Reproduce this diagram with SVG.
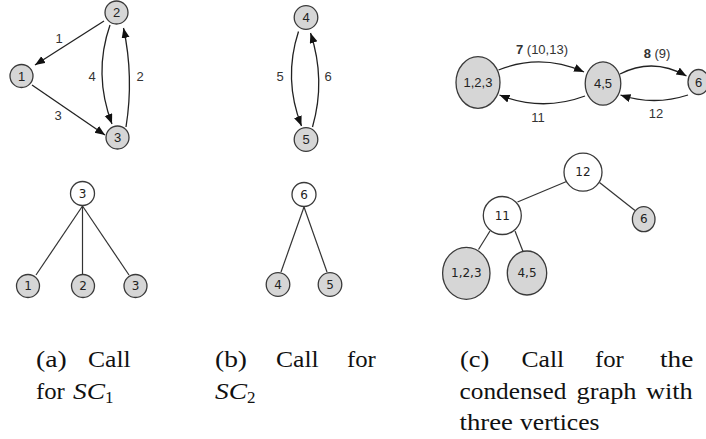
<svg xmlns="http://www.w3.org/2000/svg" width="706" height="439" viewBox="0 0 706 439">
  <style>
    .v { fill: #d6d6d6; stroke: #3a3a3a; stroke-width: 1.3; }
    .w { fill: #ffffff; stroke: #3a3a3a; stroke-width: 1.3; }
    .e { fill: none; stroke: #222; stroke-width: 1.3; }
    .t { stroke: #333; stroke-width: 1.2; }
    .nl { font-family: "Liberation Sans", Arial, sans-serif; font-size: 13px; fill: #222; text-anchor: middle; dominant-baseline: central; }
    .tl { font-family: "DejaVu Sans", Verdana, sans-serif; font-size: 12px; fill: #222; text-anchor: middle; dominant-baseline: central; }
    .el { font-family: "Liberation Sans", Arial, sans-serif; font-size: 13px; fill: #333; text-anchor: middle; dominant-baseline: central; }
    .cap { font-family: "Liberation Serif", "Times New Roman", serif; font-size: 24px; fill: #111; }
    .it { font-style: italic; }
  </style>
  <defs>
    <marker id="arrow" markerUnits="userSpaceOnUse" markerWidth="11" markerHeight="9" refX="10" refY="4" orient="auto">
      <path d="M0,0 L10,4 L0,8 Z" fill="#111"/>
    </marker>
  </defs>

  <!-- (a) strongly connected component SC1 -->
  <g id="connectors-a" class="e">
    <line x1="104" y1="21" x2="35" y2="65" marker-end="url(#arrow)"/>
    <line x1="32" y1="85" x2="105" y2="135" marker-end="url(#arrow)"/>
    <path d="M110,25 Q93,74 112,124" marker-end="url(#arrow)"/>
    <path d="M126,127 Q134,77 123.5,28" marker-end="url(#arrow)"/>
  </g>
  <g id="labels-a">
    <text class="el" x="59" y="38">1</text>
    <text class="el" x="92" y="76">4</text>
    <text class="el" x="140" y="76">2</text>
    <text class="el" x="58" y="115">3</text>
  </g>
  <g id="a-node1"><circle class="v" cx="21.5" cy="76" r="11.5"/><text class="nl" x="21.5" y="76">1</text></g>
  <g id="a-node2"><circle class="v" cx="116.5" cy="12.5" r="11.5"/><text class="nl" x="116.5" y="12.5">2</text></g>
  <g id="a-node3"><circle class="v" cx="117.5" cy="137.5" r="11.5"/><text class="nl" x="117.5" y="137.5">3</text></g>

  <!-- (a) call tree -->
  <g id="tree-a-edges" class="t">
    <line x1="82.5" y1="206" x2="36" y2="275"/>
    <line x1="82.5" y1="206" x2="82.5" y2="274"/>
    <line x1="82.5" y1="206" x2="129" y2="275"/>
  </g>
  <g id="ta-root"><circle class="w" cx="82.5" cy="193.5" r="12"/><text class="tl" x="82.5" y="193.5">3</text></g>
  <g id="ta-1"><circle class="v" cx="28" cy="286" r="11.5"/><text class="tl" x="28" y="286">1</text></g>
  <g id="ta-2"><circle class="v" cx="83" cy="286" r="11.5"/><text class="tl" x="83" y="286">2</text></g>
  <g id="ta-3"><circle class="v" cx="135.5" cy="286" r="11.5"/><text class="tl" x="135.5" y="286">3</text></g>

  <!-- (b) strongly connected component SC2 -->
  <g id="connectors-b" class="e">
    <path d="M298.5,31.5 Q283,79 301.5,126" marker-end="url(#arrow)"/>
    <path d="M312.5,127 Q326,80 310.5,33" marker-end="url(#arrow)"/>
  </g>
  <g id="labels-b">
    <text class="el" x="280" y="76">5</text>
    <text class="el" x="328" y="76">6</text>
  </g>
  <g id="b-node4"><circle class="v" cx="306" cy="17.5" r="11.8"/><text class="nl" x="306" y="17.5">4</text></g>
  <g id="b-node5"><circle class="v" cx="306" cy="139.5" r="11.8"/><text class="nl" x="306" y="139.5">5</text></g>

  <!-- (b) call tree -->
  <g id="tree-b-edges" class="t">
    <line x1="304" y1="207" x2="281" y2="272"/>
    <line x1="304" y1="207" x2="327" y2="272"/>
  </g>
  <g id="tb-root"><circle class="w" cx="304" cy="194.5" r="12"/><text class="tl" x="304" y="194.5">6</text></g>
  <g id="tb-4"><circle class="v" cx="278" cy="284.5" r="11.8"/><text class="tl" x="278" y="284.5">4</text></g>
  <g id="tb-5"><circle class="v" cx="330" cy="284.5" r="11.8"/><text class="tl" x="330" y="284.5">5</text></g>

  <!-- (c) condensed graph -->
  <g id="connectors-c" class="e">
    <path d="M498.5,70 Q541,53 584,72" marker-end="url(#arrow)"/>
    <path d="M585,96 Q542,112 499.5,95" marker-end="url(#arrow)"/>
    <path d="M620,74 Q653,57 686.5,76" marker-end="url(#arrow)"/>
    <path d="M688,95 Q654,106 620.5,95" marker-end="url(#arrow)"/>
  </g>
  <g id="labels-c">
    <text class="el" x="542" y="49"><tspan font-weight="bold">7</tspan> (10,13)</text>
    <text class="el" x="538" y="117">11</text>
    <text class="el" x="657" y="53"><tspan font-weight="bold">8</tspan> (9)</text>
    <text class="el" x="656" y="113">12</text>
  </g>
  <g id="c-node123"><ellipse class="v" cx="478" cy="82.5" rx="22" ry="25.8"/><text class="nl" x="478" y="82.5">1,2,3</text></g>
  <g id="c-node45"><ellipse class="v" cx="603" cy="83.5" rx="17.8" ry="21.7"/><text class="nl" x="603" y="83.5">4,5</text></g>
  <g id="c-node6"><ellipse class="v" cx="698.5" cy="82" rx="10.5" ry="12.5"/><text class="nl" x="698.5" y="82">6</text></g>

  <!-- (c) call tree -->
  <g id="tree-c-edges" class="t">
    <line x1="566.5" y1="181.5" x2="517.5" y2="202"/>
    <line x1="599.5" y1="182.5" x2="635" y2="210.5"/>
    <line x1="490" y1="231" x2="478.5" y2="249.5"/>
    <line x1="515" y1="231" x2="523" y2="251.5"/>
  </g>
  <g id="tc-12"><circle class="w" cx="583" cy="172.2" r="19"/><text class="tl" x="583" y="172.2">12</text></g>
  <g id="tc-11"><circle class="w" cx="502.3" cy="215.5" r="19"/><text class="tl" x="502.3" y="215.5">11</text></g>
  <g id="tc-6"><ellipse class="v" cx="643.7" cy="219.2" rx="11.3" ry="12.5"/><text class="tl" x="643.7" y="219.2">6</text></g>
  <g id="tc-123"><ellipse class="v" cx="466.3" cy="273.3" rx="23.7" ry="26"/><text class="tl" x="466.3" y="273.3">1,2,3</text></g>
  <g id="tc-45"><ellipse class="v" cx="527" cy="273" rx="19.7" ry="22"/><text class="tl" x="527" y="273">4,5</text></g>

  <!-- captions: justified words placed one by one -->
  <g id="caption-a" class="cap">
    <text x="36" y="367" textLength="30.7" lengthAdjust="spacingAndGlyphs">(a)</text>
    <text x="88" y="367" textLength="42.7" lengthAdjust="spacingAndGlyphs">Call</text>
    <text x="36" y="398.5" textLength="28.8" lengthAdjust="spacingAndGlyphs">for</text>
    <text x="73" y="398.5"><tspan class="it" textLength="32" lengthAdjust="spacingAndGlyphs">SC</tspan><tspan font-size="17" dy="4">1</tspan></text>
  </g>
  <g id="caption-b" class="cap">
    <text x="215" y="367" textLength="32" lengthAdjust="spacingAndGlyphs">(b)</text>
    <text x="276" y="367" textLength="42.7" lengthAdjust="spacingAndGlyphs">Call</text>
    <text x="347" y="367" textLength="28.8" lengthAdjust="spacingAndGlyphs">for</text>
    <text x="215" y="398.5"><tspan class="it" textLength="32" lengthAdjust="spacingAndGlyphs">SC</tspan><tspan font-size="17" dy="4">2</tspan></text>
  </g>
  <g id="caption-c" class="cap">
    <text x="460" y="367" textLength="29.3" lengthAdjust="spacingAndGlyphs">(c)</text>
    <text x="521.5" y="367" textLength="42.7" lengthAdjust="spacingAndGlyphs">Call</text>
    <text x="595" y="367" textLength="28.8" lengthAdjust="spacingAndGlyphs">for</text>
    <text x="660" y="367" textLength="33.3" lengthAdjust="spacingAndGlyphs">the</text>
    <text x="459.5" y="398.5" textLength="106.8" lengthAdjust="spacingAndGlyphs">condensed</text>
    <text x="576.5" y="398.5" textLength="60" lengthAdjust="spacingAndGlyphs">graph</text>
    <text x="646" y="398.5" textLength="46.7" lengthAdjust="spacingAndGlyphs">with</text>
    <text x="459.5" y="429.5" textLength="53.4" lengthAdjust="spacingAndGlyphs">three</text>
    <text x="520" y="429.5" textLength="79.5" lengthAdjust="spacingAndGlyphs">vertices</text>
  </g>
</svg>
